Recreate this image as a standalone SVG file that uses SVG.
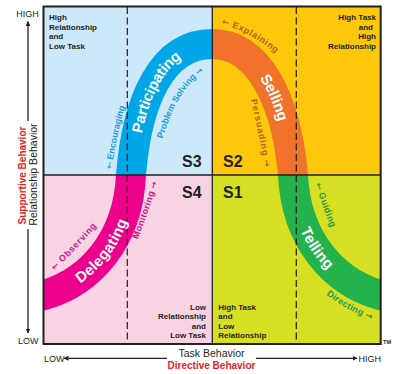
<svg xmlns="http://www.w3.org/2000/svg" width="413" height="374" viewBox="0 0 413 374">
<style>
.q{stroke:none}
.band{fill:none;stroke-width:30;stroke-linecap:butt}
.main{font-family:"Liberation Sans",Arial,sans-serif;font-weight:bold;font-size:15px;fill:#fff}
.side{font-family:"Liberation Sans",Arial,sans-serif;font-weight:bold;font-size:9px}
.arr{font-family:"DejaVu Sans",sans-serif;font-weight:bold;font-size:8.5px}
.ql{font-family:"Liberation Sans",Arial,sans-serif;font-weight:bold;font-size:8px;fill:#231f20}
.s{font-family:"Liberation Sans",Arial,sans-serif;font-weight:bold;font-size:16px;fill:#231f20}
.ax{font-family:"Liberation Sans",Arial,sans-serif;fill:#231f20}
.red{font-family:"Liberation Sans",Arial,sans-serif;font-weight:bold;fill:#ed1c24}
.axl{stroke:#231f20;stroke-width:1.3;fill:none}
.dash{stroke:#231f20;stroke-width:1.2;stroke-dasharray:7 3.5;fill:none}
.blue{fill:#1a9dd9}.brown{fill:#b35f1e}.mag{fill:#cf168a}.grn{fill:#1e9a48}
</style>
<defs>
<clipPath id="cTL"><rect x="43.5" y="6.5" width="168.8" height="168.5"/></clipPath>
<clipPath id="cTR"><rect x="212.3" y="6.5" width="168.4" height="168.5"/></clipPath>
<clipPath id="cBL"><rect x="43.5" y="175" width="168.8" height="169"/></clipPath>
<clipPath id="cBR"><rect x="212.3" y="175" width="168.4" height="169"/></clipPath>
<path id="band" d="M21,301.5 L44,295 C90,282 128,240 131,175 C137,100 162,44 212,44 C258,44 286,98 293,175 C296,240 334,282 380,295 L403,301.5"/>
<path id="pinkC" d="M21,301.5 L44,295 C90,282 128,240 131,175"/>
<path id="blueC" d="M131,175 C137,100 162,44 212,44"/>
<path id="orangeC" d="M212,44 C258,44 286,98 293,175"/>
<path id="greenC" d="M293,175 C296,240 334,282 380,295 L403,301.5"/>
<path id="pEnc" d="M110,180 C114,150 119,125 128,96"/>
<path id="pPS" d="M160,150 C168,115 181,85 213,64"/>
<path id="pExp" d="M209,21.5 C229,24.5 253,33.5 277,54.5"/>
<path id="pPer" d="M249,92 C255,118 262,148 266,176"/>
<path id="pObs" d="M44,281 C60,265 78,248 100,222"/>
<path id="pMon" d="M133,252 C142,228 152,204 160,172"/>
<path id="pGui" d="M311,168 C317,190 324,212 336,240"/>
<path id="pDir" d="M316,287 C334,301 352,314 382,323"/>
<marker id="ah" viewBox="0 0 10 10" refX="9" refY="5" markerWidth="5" markerHeight="5" markerUnits="userSpaceOnUse" orient="auto">
<path d="M0,0 L10,5 L0,10 z" fill="#231f20"/>
</marker>
</defs>

<g id="quadrants">
<rect class="q" x="43.5" y="6.5" width="168.8" height="168.5" fill="#cde9f9"/>
<rect class="q" x="212.3" y="6.5" width="168.4" height="168.5" fill="#fdc70c"/>
<rect class="q" x="43.5" y="175" width="168.8" height="169" fill="#f8d3e4"/>
<rect class="q" x="212.3" y="175" width="168.4" height="169" fill="#d7df23"/>
</g>

<g id="curve">
<use href="#band" class="band" stroke="#ec008c" clip-path="url(#cBL)"/>
<use href="#band" class="band" stroke="#00a6e6" clip-path="url(#cTL)"/>
<use href="#band" class="band" stroke="#f1722a" clip-path="url(#cTR)"/>
<use href="#band" class="band" stroke="#23b24b" clip-path="url(#cBR)"/>
</g>

<g id="grid">
<line class="dash" x1="127.3" y1="7" x2="127.3" y2="343"/>
<line class="dash" x1="296.3" y1="7" x2="296.3" y2="343"/>
<line x1="43.5" y1="175" x2="380.7" y2="175" stroke="#231f20" stroke-width="1.3"/>
<line x1="212.3" y1="6.5" x2="212.3" y2="344" stroke="#231f20" stroke-width="1.3"/>
<rect x="43.5" y="6.5" width="337.2" height="337.5" fill="none" stroke="#231f20" stroke-width="2"/>
</g>

<g id="S3">
<text class="ql" x="49" y="20">High</text>
<text class="ql" x="49" y="29.7">Relationship</text>
<text class="ql" x="49" y="39.4">and</text>
<text class="ql" x="49" y="49.1">Low Task</text>
<text class="s" x="182" y="167">S3</text>
<text class="main" dy="5"><textPath href="#blueC" startOffset="88" text-anchor="middle">Participating</textPath></text>
<text class="side blue"><textPath href="#pEnc" startOffset="50%" text-anchor="middle"><tspan class="arr">←</tspan> Encouraging</textPath></text>
<text class="side blue"><textPath href="#pPS" startOffset="50%" text-anchor="middle">Problem Solving <tspan class="arr">→</tspan></textPath></text>
</g>

<g id="S2">
<text class="ql" x="376" y="20" text-anchor="end">High Task</text>
<text class="ql" x="373" y="29.7" text-anchor="end">and</text>
<text class="ql" x="376" y="39.4" text-anchor="end">High</text>
<text class="ql" x="376" y="49.1" text-anchor="end">Relationship</text>
<text class="s" x="223" y="167">S2</text>
<text class="main" dy="5"><textPath href="#orangeC" startOffset="88" text-anchor="middle">Selling</textPath></text>
<text class="side brown" letter-spacing="0.6"><textPath href="#pExp" startOffset="44" text-anchor="middle"><tspan class="arr">←</tspan> Explaining</textPath></text>
<text class="side brown" letter-spacing="0.9"><textPath href="#pPer" startOffset="50%" text-anchor="middle">Persuading <tspan class="arr">→</tspan></textPath></text>
</g>

<g id="S4">
<text class="ql" x="206" y="309.5" text-anchor="end">Low</text>
<text class="ql" x="206" y="319" text-anchor="end">Relationship</text>
<text class="ql" x="206" y="328.5" text-anchor="end">and</text>
<text class="ql" x="206" y="338" text-anchor="end">Low Task</text>
<text class="s" x="182" y="198">S4</text>
<text class="main" dy="5"><textPath href="#pinkC" startOffset="99" text-anchor="middle">Delegating</textPath></text>
<text class="side mag" letter-spacing="0.7"><textPath href="#pObs" startOffset="46" text-anchor="middle"><tspan class="arr">←</tspan> Observing</textPath></text>
<text class="side mag" letter-spacing="0.4"><textPath href="#pMon" startOffset="44" text-anchor="middle">Monitoring <tspan class="arr">→</tspan></textPath></text>
</g>

<g id="S1">
<text class="ql" x="218.3" y="309.5">High Task</text>
<text class="ql" x="218.3" y="319">and</text>
<text class="ql" x="218.3" y="328.5">Low</text>
<text class="ql" x="218.3" y="338">Relationship</text>
<text class="s" x="223" y="198">S1</text>
<text class="main" dy="5"><textPath href="#greenC" startOffset="78" text-anchor="middle">Telling</textPath></text>
<text class="side grn" letter-spacing="0.4"><textPath href="#pGui" startOffset="40" text-anchor="middle"><tspan class="arr">←</tspan> Guiding</textPath></text>
<text class="side grn" letter-spacing="0.3"><textPath href="#pDir" startOffset="39" text-anchor="middle">Directing <tspan class="arr">→</tspan></textPath></text>
</g>

<g id="axes">
<line class="axl" x1="28" y1="121" x2="28" y2="21.5" marker-end="url(#ah)"/>
<line class="axl" x1="28" y1="229" x2="28" y2="333" marker-end="url(#ah)"/>
<line class="axl" x1="167" y1="358.3" x2="64" y2="358.3" marker-end="url(#ah)"/>
<line class="axl" x1="256" y1="358.3" x2="357" y2="358.3" marker-end="url(#ah)"/>
<text class="ax" x="27.5" y="17.3" font-size="9" text-anchor="middle">HIGH</text>
<text class="ax" x="28.3" y="343.5" font-size="9" text-anchor="middle">LOW</text>
<text class="ax" x="44" y="362" font-size="9">LOW</text>
<text class="ax" x="358.5" y="362" font-size="9">HIGH</text>
<text class="ax" x="211.5" y="356.7" font-size="10.5" text-anchor="middle">Task Behavior</text>
<text class="red" x="211.5" y="369.3" font-size="10" text-anchor="middle">Directive Behavior</text>
<text class="ax" transform="translate(37.3,174.5) rotate(-90)" font-size="10.5" text-anchor="middle">Relationship Behavior</text>
<text class="red" transform="translate(26,175.5) rotate(-90)" font-size="10" text-anchor="middle">Supportive Behavior</text>
<text class="ax" x="383" y="344" font-size="5.6" font-weight="bold">TM</text>
</g>
</svg>
